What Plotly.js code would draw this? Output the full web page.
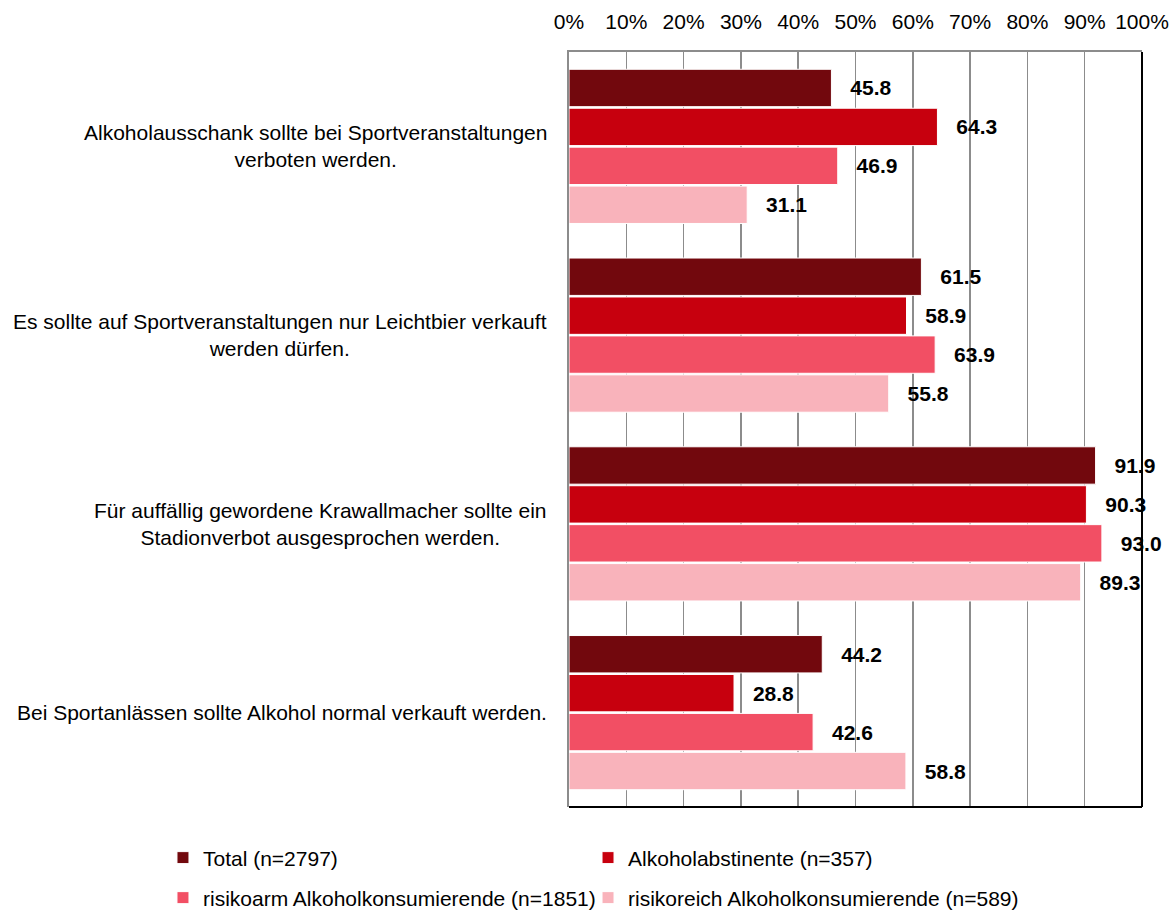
<!DOCTYPE html>
<html>
<head>
<meta charset="utf-8">
<script src="https://cdn.plot.ly/plotly-3.0.1.min.js"></script>
<style>
  html, body { margin: 0; padding: 0; background: #ffffff; }
  #chart { width: 1174px; height: 916px; }
</style>
</head>
<body>
<div id="chart"></div>
<script>
// ---- data ----
const categories = [
  "Alkoholausschank sollte bei Sportveranstaltungen<br>verboten werden.",
  "Es sollte auf Sportveranstaltungen nur Leichtbier verkauft<br>werden dürfen.",
  "Für auffällig gewordene Krawallmacher sollte ein<br>Stadionverbot ausgesprochen werden.",
  "Bei Sportanlässen sollte Alkohol normal verkauft werden."
];
const seriesNames = [
  "Total (n=2797)",
  "Alkoholabstinente (n=357)",
  "risikoarm Alkoholkonsumierende (n=1851)",
  "risikoreich Alkoholkonsumierende (n=589)"
];
const totalValues      = [45.8, 61.5, 91.9, 44.2];
const abstinentValues  = [64.3, 58.9, 90.3, 28.8];
const lowRiskValues    = [46.9, 63.9, 93.0, 42.6];
const highRiskValues   = [31.1, 55.8, 89.3, 58.8];
const xTickValues = [0, 10, 20, 30, 40, 50, 60, 70, 80, 90, 100];
const xTickLabels = ["0%", "10%", "20%", "30%", "40%", "50%", "60%", "70%", "80%", "90%", "100%"];

// ---- styling ----
const seriesValues = [totalValues, abstinentValues, lowRiskValues, highRiskValues];
const colors = ["#72080D", "#C7000E", "#F24F64", "#F9B3BB"];
const legendIds = ["legend", "legend2", "legend3", "legend4"];
const FONT = "Liberation Sans, Arial, sans-serif";

const traces = seriesValues.map((vals, i) => ({
  type: "bar",
  orientation: "h",
  name: seriesNames[i],
  x: vals,
  y: categories,
  legend: legendIds[i],
  marker: { color: colors[i], line: { color: "#ffffff", width: 1 } },
  texttemplate: "\u00a0\u00a0\u2009%{x:.1f}",
  textposition: "outside",
  constraintext: "none",
  cliponaxis: false,
  textfont: { family: FONT, size: 21, color: "#000000", weight: "bold" },
  hoverinfo: "skip"
}));

const annotations = categories.map(c => ({
  xref: "paper", yref: "y",
  x: 0, y: c,
  xanchor: "right", yanchor: "middle",
  xshift: -20,
  align: "center",
  showarrow: false,
  text: c,
  font: { family: FONT, size: 21, color: "#000000" }
}));

const col1 = -0.7086, col2 = 0.0332, row1 = -0.0675, row2 = -0.1205;
const legendBase = {
  orientation: "h", xanchor: "left", yanchor: "middle",
  bgcolor: "rgba(0,0,0,0)", borderwidth: 0,
  font: { family: FONT, size: 21, color: "#000000" }
};

const layout = {
  width: 1174, height: 916,
  margin: { l: 569, r: 32, t: 52, b: 109, pad: 0, autoexpand: false },
  paper_bgcolor: "#ffffff",
  plot_bgcolor: "#ffffff",
  barmode: "group",
  bargap: 0.175,
  bargroupgap: 0.04,
  font: { family: FONT, size: 21, color: "#000000" },
  xaxis: {
    side: "top",
    range: [0, 100],
    tickvals: xTickValues,
    ticktext: xTickLabels,
    ticks: "",
    ticklabelstandoff: 13,
    showgrid: true,
    gridcolor: "#8c8c8c",
    gridwidth: 1.5,
    zeroline: false,
    showline: true,
    linecolor: "#8c8c8c",
    linewidth: 2,
    tickfont: { family: FONT, size: 21, color: "#000000" },
    fixedrange: true
  },
  yaxis: {
    autorange: "reversed",
    showticklabels: false,
    ticks: "",
    showgrid: false,
    zeroline: false,
    showline: true,
    linecolor: "#8c8c8c",
    linewidth: 2,
    fixedrange: true
  },
  shapes: [
    { type: "line", xref: "paper", yref: "paper", x0: 1, x1: 1, y0: 0, y1: 1,
      line: { color: "#000000", width: 2 }, layer: "above" },
    { type: "line", xref: "paper", yref: "paper", x0: 0, x1: 1, y0: 0, y1: 0,
      line: { color: "#000000", width: 2 }, layer: "above" }
  ],
  annotations: annotations,
  showlegend: true,
  legend:  Object.assign({}, legendBase, { x: col1, y: row1 }),
  legend2: Object.assign({}, legendBase, { x: col2, y: row1 }),
  legend3: Object.assign({}, legendBase, { x: col1, y: row2 }),
  legend4: Object.assign({}, legendBase, { x: col2, y: row2 })
};

Plotly.newPlot("chart", traces, layout, { displayModeBar: false, staticPlot: true });
</script>
</body>
</html>
